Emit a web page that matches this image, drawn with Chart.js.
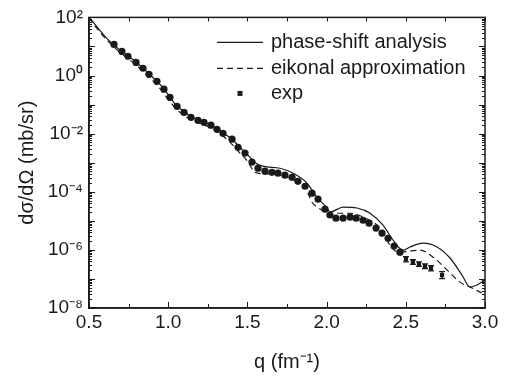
<!DOCTYPE html>
<html>
<head>
<meta charset="utf-8">
<script src="https://cdn.jsdelivr.net/npm/chart.js@4.4.1/dist/chart.umd.min.js"></script>
<style>
  html, body { margin: 0; padding: 0; background: #fff; }
  #wrap { width: 513px; height: 378px; }
</style>
</head>
<body>
<div id="wrap"><canvas id="chart" width="513" height="378"></canvas></div>
<script>
// experimental points: q (fm^-1) and log10 of dσ/dΩ (mb/sr)
const expQ = [0.658, 0.708, 0.746, 0.797, 0.841, 0.879, 0.929, 0.973, 1.011, 1.056,
              1.100, 1.144, 1.188, 1.226, 1.270, 1.308, 1.346, 1.403, 1.441, 1.485,
              1.529, 1.567, 1.611, 1.655, 1.693, 1.737, 1.782, 1.819, 1.864, 1.908,
              1.946, 1.990, 2.021, 2.059, 2.104, 2.148, 2.186, 2.230, 2.268, 2.312,
              2.350, 2.388, 2.426, 2.463, 2.501, 2.545, 2.583, 2.621, 2.659, 2.729];
const expLog = [1.07, 0.83, 0.66, 0.45, 0.25, 0.04, -0.20, -0.47, -0.75, -1.06,
                -1.27, -1.44, -1.54, -1.61, -1.71, -1.85, -1.99, -2.19, -2.47, -2.67,
                -2.98, -3.19, -3.29, -3.33, -3.36, -3.43, -3.50, -3.64, -3.81, -4.05,
                -4.25, -4.60, -4.80, -4.91, -4.91, -4.87, -4.91, -4.98, -5.08, -5.25,
                -5.42, -5.60, -5.87, -6.08, -6.32, -6.42, -6.49, -6.56, -6.63, -6.87];
// error half-width in decades (only the last points show visible bars)
const expErr = [0, 0, 0, 0, 0, 0, 0, 0, 0, 0,
                0, 0, 0, 0, 0, 0, 0, 0, 0, 0,
                0, 0, 0, 0, 0, 0, 0, 0, 0, 0,
                0, 0, 0, 0, 0, 0, 0, 0, 0, 0,
                0, 0, 0, 0, 0.09, 0.08, 0.08, 0.08, 0.09, 0.12];

// phase-shift analysis curve
const psQ = [0.5, 0.538, 0.601, 0.652, 0.70, 0.75, 0.80, 0.85, 0.90, 0.95,
             1.00, 1.05, 1.10, 1.15, 1.20, 1.25, 1.30, 1.35, 1.40, 1.45,
             1.50, 1.55, 1.598, 1.706, 1.788, 1.876, 1.939, 2.003, 2.021, 2.104,
             2.192, 2.274, 2.356, 2.419, 2.482, 2.527, 2.609, 2.697, 2.779, 2.855,
             2.905, 2.949, 3.0];
const psLog = [2.0, 1.76, 1.35, 1.07, 0.86, 0.66, 0.44, 0.21, -0.05, -0.31,
               -0.66, -1.02, -1.25, -1.43, -1.55, -1.65, -1.80, -1.98, -2.18, -2.45,
               -2.72, -3.0, -3.12, -3.19, -3.36, -3.70, -4.19, -4.56, -4.70, -4.53,
               -4.56, -4.74, -5.15, -5.66, -6.01, -5.90, -5.77, -5.90, -6.28, -6.87,
               -7.28, -7.21, -7.04];

// eikonal approximation curve
const eikQ = [0.5, 0.55, 0.60, 0.65, 0.70, 0.75, 0.80, 0.85, 0.90, 0.95,
              1.00, 1.05, 1.10, 1.15, 1.20, 1.25, 1.30, 1.35, 1.40, 1.45,
              1.50, 1.548, 1.60, 1.70, 1.78, 1.864, 1.908, 1.971, 2.021, 2.066,
              2.148, 2.230, 2.337, 2.413, 2.463, 2.590, 2.672, 2.760, 2.842, 2.905,
              2.987];
const eikLog = [2.0, 1.62, 1.30, 1.02, 0.78, 0.57, 0.35, 0.10, -0.17, -0.46,
                -0.82, -1.15, -1.37, -1.55, -1.65, -1.75, -1.90, -2.10, -2.35, -2.65,
                -2.95, -3.33, -3.38, -3.42, -3.55, -3.84, -4.36, -4.63, -4.80, -4.74,
                -4.74, -4.87, -5.25, -5.94, -6.08, -6.01, -6.25, -6.69, -7.11, -7.28,
                -7.50];

const xTickValues = [0.5, 1.0, 1.5, 2.0, 2.5, 3.0];
const yTickExps = [-8, -6, -4, -2, 0, 2];

const legendItems = ['phase-shift analysis', 'eikonal approximation', 'exp'];

const FONT = '"Liberation Sans", Arial, sans-serif';
const INK = '#1a1a1a';
const SUP = { '-': '\u207B', '0': '\u2070', '1': '\u00B9', '2': '\u00B2', '3': '\u00B3',
              '4': '\u2074', '5': '\u2075', '6': '\u2076', '7': '\u2077', '8': '\u2078', '9': '\u2079' };
function sup(n) { return String(n).split('').map(c => SUP[c]).join(''); }

function toPoints(qs, logs) {
    return qs.map((q, i) => ({ x: q, y: Math.pow(10, logs[i]) }));
}

// frame and inward ticks on all four sides
const framePlugin = {
    id: 'frame',
    afterDraw(chart) {
        const ctx = chart.ctx;
        const a = chart.chartArea;
        const xs = chart.scales.x, ys = chart.scales.y;
        ctx.save();
        ctx.strokeStyle = INK;
        ctx.lineWidth = 1.5;
        ctx.strokeRect(a.left, a.top, a.right - a.left, a.bottom - a.top);
        ctx.lineWidth = 1;
        ctx.beginPath();
        for (let q = 0.5; q <= 3.0001; q += 0.25) {
            const x = Math.round(xs.getPixelForValue(q)) + 0.5;
            const major = Math.abs(q * 2 - Math.round(q * 2)) < 1e-6;
            const len = major ? 6 : 4;
            ctx.moveTo(x, a.bottom); ctx.lineTo(x, a.bottom - len);
            ctx.moveTo(x, a.top); ctx.lineTo(x, a.top + 4);
        }
        for (let e = -8; e <= 2; e++) {
            for (let m = 1; m <= 9; m++) {
                if (e === 2 && m > 1) break;
                const y = Math.round(ys.getPixelForValue(m * Math.pow(10, e))) + 0.5;
                const len = m === 1 ? 6 : 3;
                ctx.moveTo(a.left, y); ctx.lineTo(a.left + len, y);
                ctx.moveTo(a.right, y); ctx.lineTo(a.right - len, y);
            }
        }
        ctx.stroke();
        ctx.restore();
    }
};

// error bars on the experimental points
const errorBarPlugin = {
    id: 'errorBars',
    afterDatasetsDraw(chart) {
        const ctx = chart.ctx;
        const xs = chart.scales.x, ys = chart.scales.y;
        ctx.save();
        ctx.strokeStyle = INK;
        ctx.lineWidth = 1.3;
        ctx.beginPath();
        expQ.forEach((q, i) => {
            if (!expErr[i]) return;
            const x = xs.getPixelForValue(q);
            const y1 = ys.getPixelForValue(Math.pow(10, expLog[i] + expErr[i]));
            const y2 = ys.getPixelForValue(Math.pow(10, expLog[i] - expErr[i]));
            ctx.moveTo(x, y1); ctx.lineTo(x, y2);
            ctx.moveTo(x - 3, y1); ctx.lineTo(x + 3, y1);
            ctx.moveTo(x - 3, y2); ctx.lineTo(x + 3, y2);
        });
        ctx.stroke();
        ctx.restore();
    }
};

// legend in the upper right of the plot
const legendPlugin = {
    id: 'insideLegend',
    afterDraw(chart) {
        const ctx = chart.ctx;
        const a = chart.chartArea;
        const x0 = a.left + 128, x1 = a.left + 174, tx = a.left + 182;
        const rows = [a.top + 25, a.top + 51, a.top + 76];
        ctx.save();
        ctx.strokeStyle = INK;
        ctx.lineWidth = 1.2;
        ctx.beginPath(); ctx.moveTo(x0, rows[0]); ctx.lineTo(x1, rows[0]); ctx.stroke();
        ctx.setLineDash([6, 4]);
        ctx.beginPath(); ctx.moveTo(x0, rows[1]); ctx.lineTo(x1, rows[1]); ctx.stroke();
        ctx.setLineDash([]);
        ctx.fillStyle = INK;
        ctx.fillRect((x0 + x1) / 2 - 2.5, rows[2] - 2.5, 5, 5);
        ctx.font = '20px ' + FONT;
        ctx.textBaseline = 'middle';
        legendItems.forEach((t, i) => ctx.fillText(t, tx, rows[i]));
        ctx.restore();
    }
};

new Chart(document.getElementById('chart'), {
    type: 'scatter',
    data: {
        datasets: [
            {
                label: legendItems[0],
                data: toPoints(psQ, psLog),
                showLine: true,
                borderColor: INK,
                borderWidth: 1.2,
                pointRadius: 0,
                cubicInterpolationMode: 'monotone'
            },
            {
                label: legendItems[1],
                data: toPoints(eikQ, eikLog),
                showLine: true,
                borderColor: INK,
                borderWidth: 1.2,
                borderDash: [6, 4],
                pointRadius: 0,
                cubicInterpolationMode: 'monotone'
            },
            {
                label: legendItems[2],
                data: toPoints(expQ, expLog),
                showLine: false,
                backgroundColor: INK,
                borderColor: INK,
                borderWidth: 0,
                pointStyle: ctx => expErr[ctx.dataIndex] ? 'rect' : 'circle',
                pointRadius: ctx => expErr[ctx.dataIndex] ? 3 : 3.6
            }
        ]
    },
    options: {
        responsive: false,
        animation: false,
        layout: { padding: { top: 17, right: 28, left: 0, bottom: 0 } },
        plugins: {
            legend: { display: false },
            tooltip: { enabled: false }
        },
        scales: {
            x: {
                type: 'linear',
                min: 0.5,
                max: 3.0,
                afterBuildTicks: s => { s.ticks = xTickValues.map(v => ({ value: v })); },
                afterFit: s => { s.height = 70; },
                ticks: {
                    callback: v => Number(v).toFixed(1),
                    font: { family: FONT, size: 19 },
                    color: INK,
                    padding: 3,
                    maxRotation: 0
                },
                grid: { drawOnChartArea: false, drawTicks: false },
                border: { color: INK, width: 1.5 },
                title: {
                    display: true,
                    text: 'q (fm\u207B\u00B9)',
                    font: { family: FONT, size: 20 },
                    color: INK,
                    padding: { top: 0, bottom: 4 }
                }
            },
            y: {
                type: 'logarithmic',
                min: 1e-8,
                max: 1e2,
                afterBuildTicks: s => { s.ticks = yTickExps.map(e => ({ value: Math.pow(10, e) })); },
                afterFit: s => { s.width = 89; },
                ticks: {
                    callback: v => '10' + sup(Math.round(Math.log10(v))),
                    font: { family: FONT, size: 19 },
                    color: INK,
                    padding: 6
                },
                grid: { drawOnChartArea: false, drawTicks: false },
                border: { color: INK, width: 1.5 },
                title: {
                    display: true,
                    text: 'd\u03C3/d\u03A9 (mb/sr)',
                    font: { family: FONT, size: 20 },
                    color: INK,
                    padding: { top: 15, bottom: 0 }
                }
            }
        }
    },
    plugins: [framePlugin, errorBarPlugin, legendPlugin]
});
</script>
</body>
</html>
